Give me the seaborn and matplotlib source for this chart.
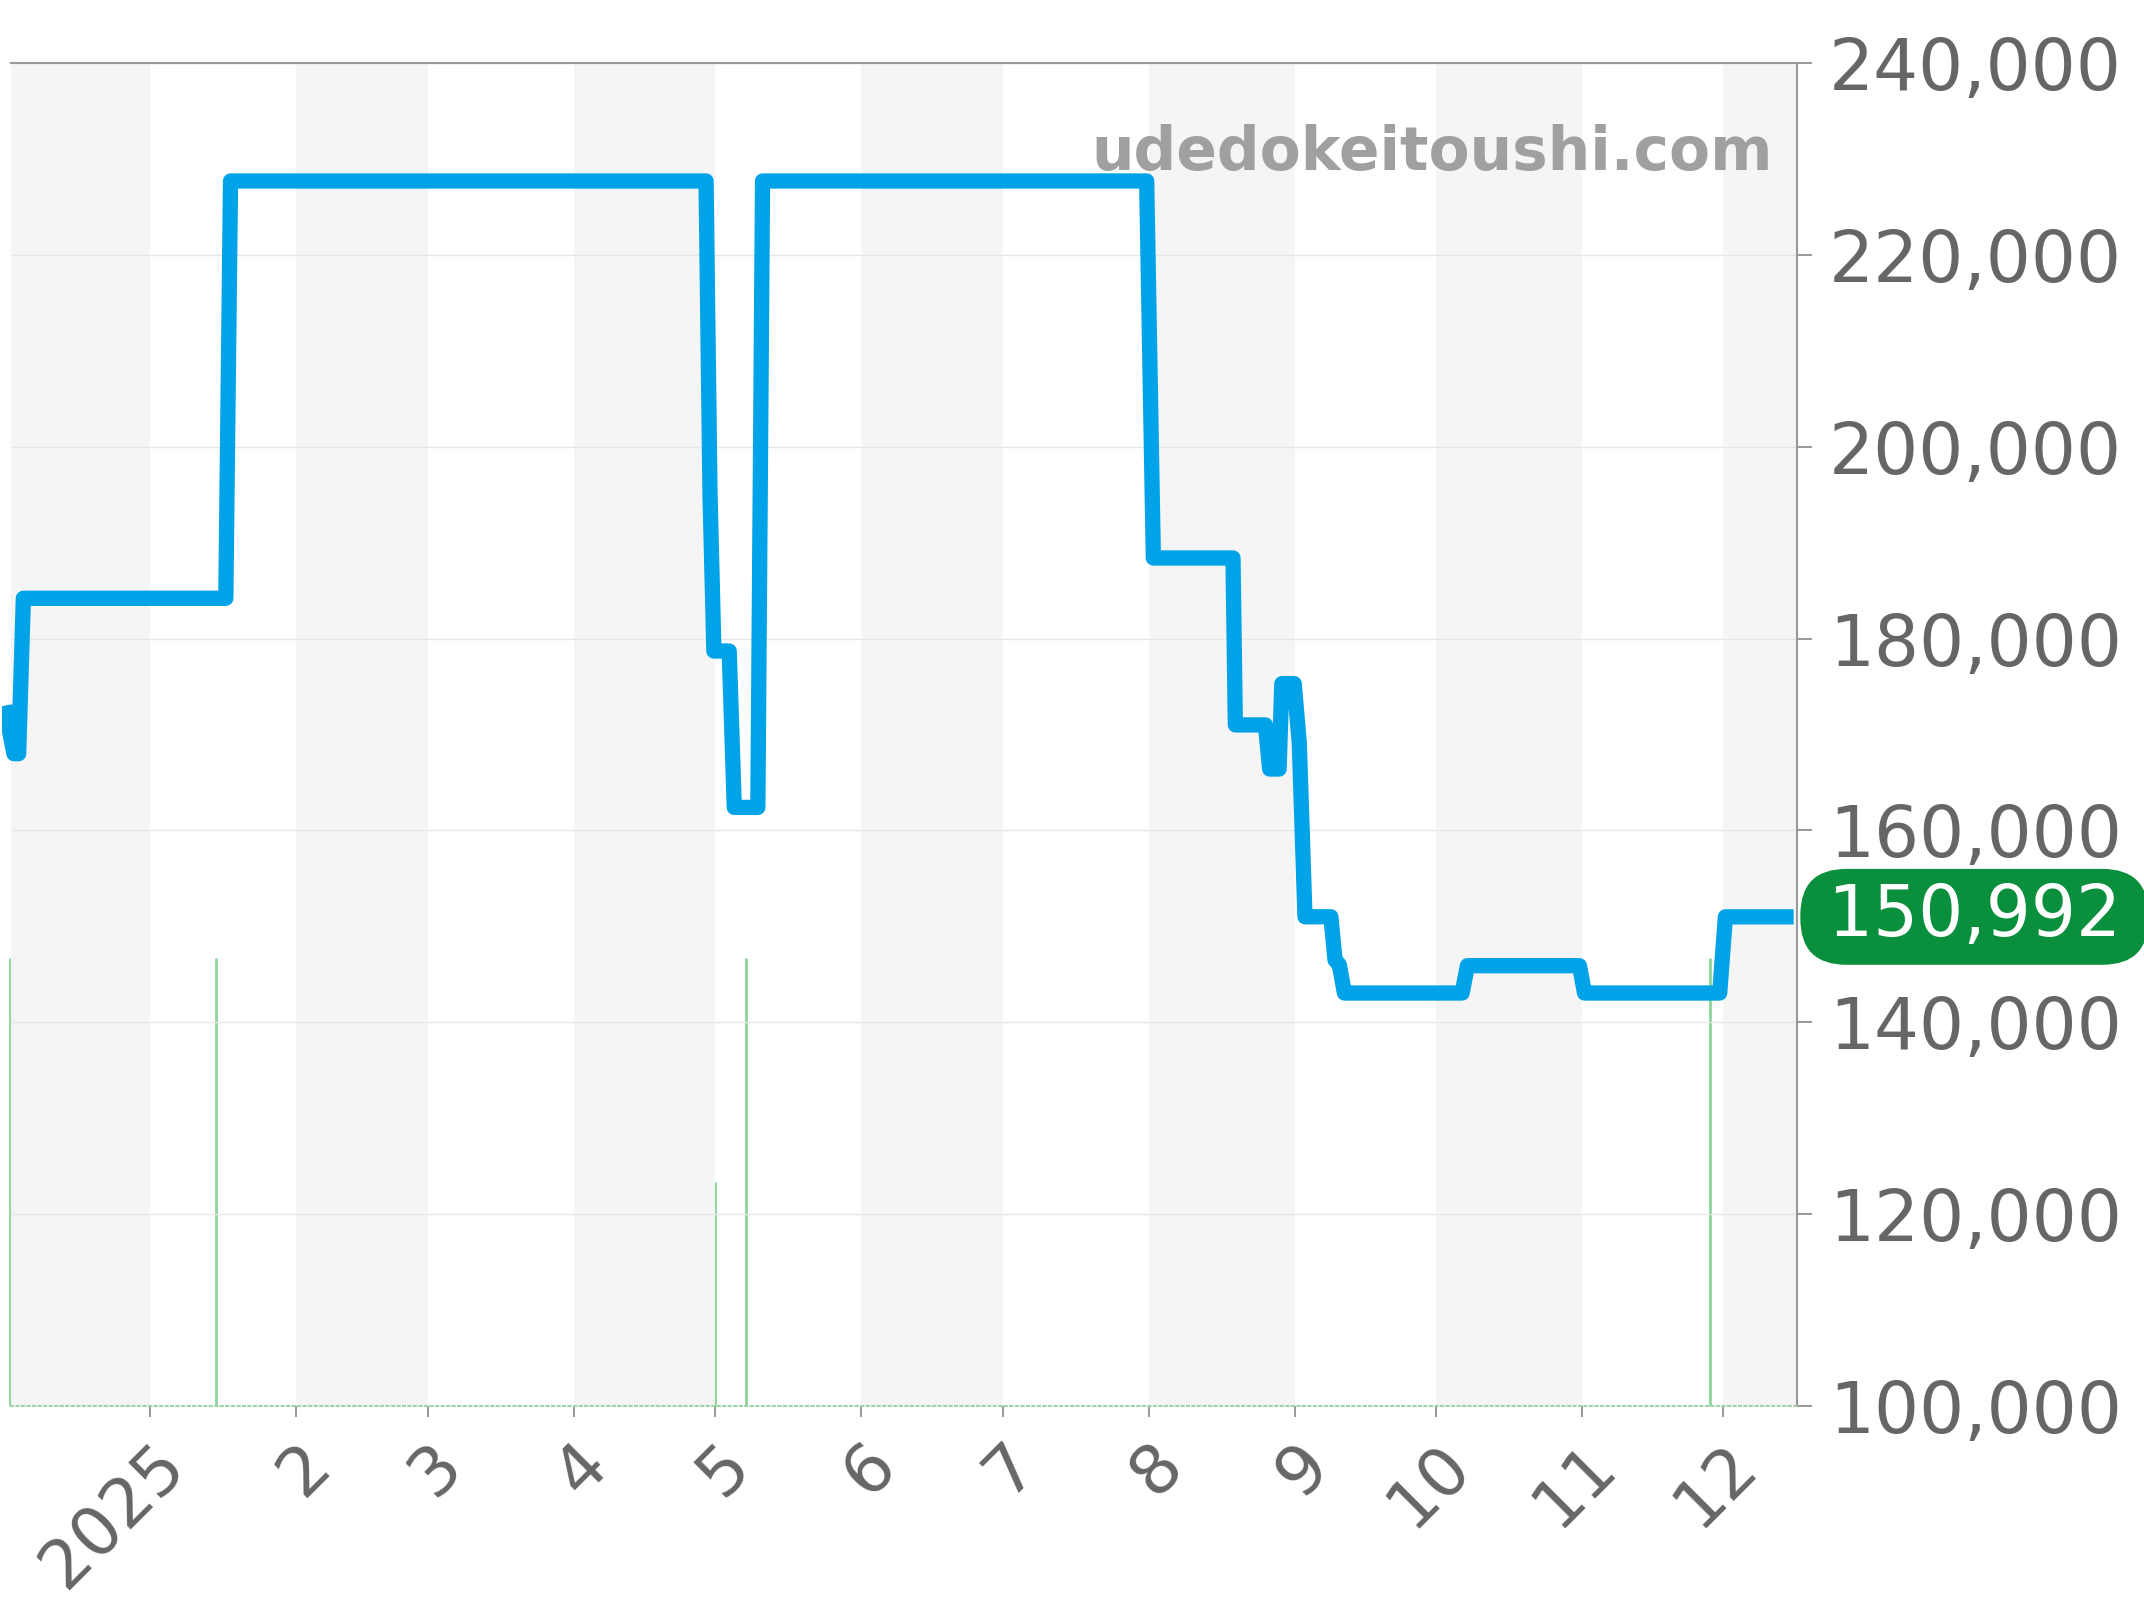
import pandas as pd
import numpy as np
import matplotlib
matplotlib.use("Agg")
import matplotlib.pyplot as plt
import matplotlib.transforms as mtransforms
from matplotlib.ticker import FuncFormatter
import seaborn as sns

# price history
price_dates = [
    "2024-12-01 00:00", "2024-12-03 00:00", "2024-12-04 00:00", "2024-12-05 00:00",
    "2025-01-17 00:00", "2025-01-18 00:00", "2025-04-29 00:00", "2025-04-29 20:00",
    "2025-04-30 16:00", "2025-05-03 22:00", "2025-05-05 00:00", "2025-05-10 00:00",
    "2025-05-11 00:00", "2025-07-31 14:00", "2025-08-02 00:00", "2025-08-18 22:00",
    "2025-08-19 10:00", "2025-08-25 19:00", "2025-08-26 17:00", "2025-08-28 17:00",
    "2025-08-29 07:00", "2025-08-31 22:00", "2025-09-02 00:00", "2025-09-03 05:00",
    "2025-09-08 17:00", "2025-09-09 14:00", "2025-09-10 12:00", "2025-09-11 14:00",
    "2025-10-06 14:00", "2025-10-07 17:00", "2025-10-31 12:00", "2025-11-01 14:00",
    "2025-11-30 07:00", "2025-12-01 12:00", "2025-12-16 00:00",
]
price_values = [
    173000, 168000, 168000, 184200,
    184200, 227700, 227700, 195200,
    178700, 178700, 162400, 162400,
    227700, 227700, 188400, 188400,
    171000, 171000, 166400, 166400,
    175300, 175300, 169100, 151000,
    151000, 146500, 146000, 143050,
    143050, 145900, 145900, 143050,
    143050, 150992, 150992,
]

# listing counts (green bars)
count_dates = ["2024-12-02 06:00", "2025-01-15 00:00", "2025-05-01 00:00",
               "2025-05-07 12:00", "2025-08-26 00:00", "2025-11-28 06:00"]
count_values = [2, 2, 1, 2, 2, 2]

month_ticks = ["2025-01-01", "2025-02-01", "2025-03-01", "2025-04-01", "2025-05-01",
               "2025-06-01", "2025-07-01", "2025-08-01", "2025-09-01", "2025-10-01",
               "2025-11-01", "2025-12-01"]
month_labels = ["2025", "2", "3", "4", "5", "6", "7", "8", "9", "10", "11", "12"]
shaded_months = [("2024-12-01", "2025-01-01"), ("2025-02-01", "2025-03-01"),
                 ("2025-04-01", "2025-05-01"), ("2025-06-01", "2025-07-01"),
                 ("2025-08-01", "2025-09-01"), ("2025-10-01", "2025-11-01"),
                 ("2025-12-01", "2026-01-01")]

last_price = 150992
watermark = "udedokeitoushi.com"

sns.set_style("white")
plt.rcParams["font.family"] = ["DejaVu Sans"]

df = pd.DataFrame({"date": pd.to_datetime(price_dates), "price": price_values})

fig = plt.figure(figsize=(21.44, 16), dpi=100)
ax = fig.add_axes([11 / 2144, 1 - 1406 / 1600, 1786 / 2144, 1343 / 1600])

# alternating month bands
for start, end in shaded_months:
    ax.axvspan(pd.Timestamp(start), pd.Timestamp(end), color="#f5f5f5", lw=0, zorder=0)

# volume bars on a hidden twin axis
ax2 = ax.twinx()
ax2.vlines(pd.to_datetime(count_dates), 0, count_values, color="#8ed49b", lw=2,
           clip_on=False)
ax2.set_ylim(0, 6)
ax2.axis("off")

ax.set_zorder(ax2.get_zorder() + 1)
ax.patch.set_visible(False)

sns.lineplot(data=df, x="date", y="price", ax=ax, color="#00a2e8", linewidth=11,
             estimator=None, solid_joinstyle="round", solid_capstyle="butt", zorder=5)

ax.set_xlim(pd.Timestamp("2024-12-02 09:00"), pd.Timestamp("2025-12-16 17:00"))
ax.set_ylim(100000, 240000)
ax2.set_xlim(ax.get_xlim())
# let the line run a hair past the left edge, like the original
ax.lines[0].set_clip_box(mtransforms.TransformedBbox(
    mtransforms.Bbox([[-0.005, 0], [1, 1]]), ax.transAxes))

# y axis on the right
ax.yaxis.tick_right()
ax.set_yticks(np.arange(100000, 240001, 20000))
ax.yaxis.set_major_formatter(FuncFormatter(lambda v, p: f"{int(v):,}"))
ax.tick_params(axis="y", which="both", right=True, left=False, length=11, width=1.2,
               color="#888888", labelsize=51, labelcolor="#666666", pad=12)
ax.grid(axis="y", color="#e6e6e6", lw=1)
ax.grid(axis="x", visible=False)

ax.set_xticks(pd.to_datetime(month_ticks))
ax.set_xticklabels(month_labels, rotation=45, ha="right", va="top",
                   rotation_mode="anchor")
ax.tick_params(axis="x", bottom=True, length=8, width=1.2, color="#888888",
               labelsize=49, labelcolor="#666666", pad=10)

ax.set_xlabel("")
ax.set_ylabel("")

ax.spines["left"].set_visible(False)
ax.spines["right"].set_color("#999999")
ax.spines["right"].set_linewidth(1.5)
ax.spines["top"].set_color("#999999")
ax.spines["top"].set_linewidth(1.5)
ax.spines["bottom"].set_color("#9dd5a5")
ax.spines["bottom"].set_linestyle(":")
ax.spines["bottom"].set_linewidth(1.5)

# watermark
ax.text(0.9866, 0.92, watermark, transform=ax.transAxes, ha="right", va="baseline",
        fontsize=43, fontweight="bold", color="#a0a0a0", zorder=6)

# last price badge
trans = mtransforms.blended_transform_factory(ax.transAxes, ax.transData)
ax.text(1.0094, last_price, f"\u2009{last_price:,}\u2009", transform=trans, ha="left",
        va="center", fontsize=51, color="white", clip_on=False, zorder=10,
        bbox=dict(boxstyle="round,pad=0.19,rounding_size=0.65", fc="#0a8f3c", ec="none"))

fig.savefig("out.png", dpi=100)
